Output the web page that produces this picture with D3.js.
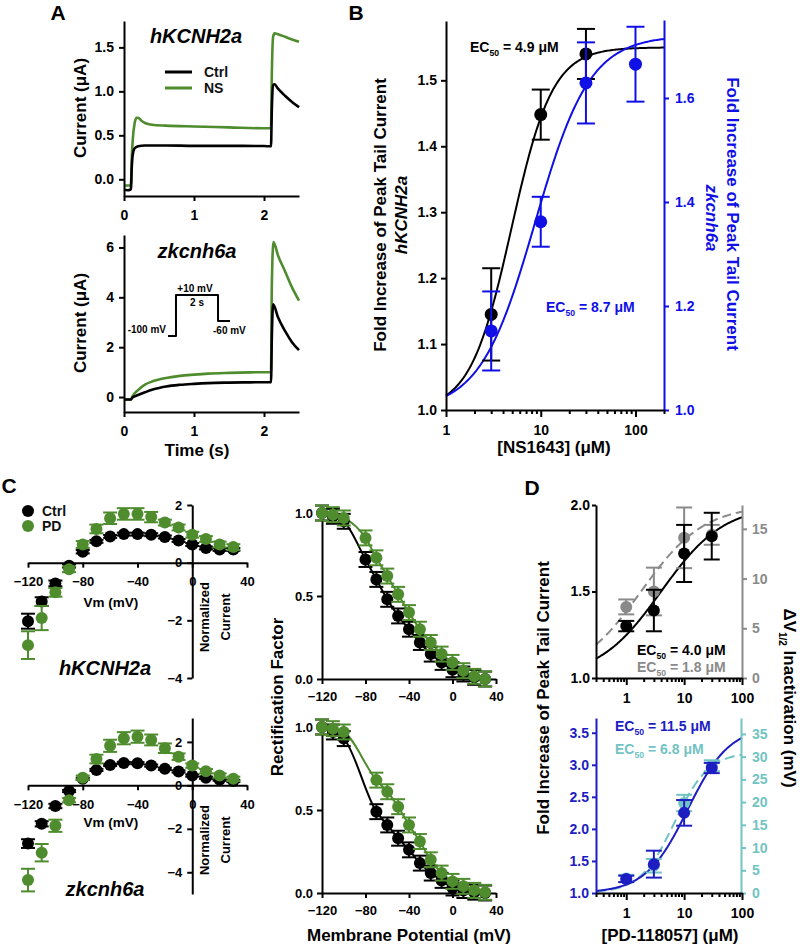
<!DOCTYPE html>
<html><head><meta charset="utf-8">
<script src="https://cdn.jsdelivr.net/npm/d3@7"></script>
<style>
body{margin:0;background:#fff;}
svg text{font-family:"Liberation Sans",Arial,sans-serif;font-weight:bold;}
</style></head><body>
<svg id="fig" width="800" height="947"></svg>
<script>
// ---------------- DATA ----------------
// Panel A: current traces [time (s), current (µA)]
const aTopCtrl = [[0,-0.12],[0.05,-0.125],[0.09,-0.12],[0.1,-0.1],[0.11,0.12],[0.125,0.28],[0.15,0.35],[0.2,0.375],[0.3,0.385],[0.6,0.385],[1.0,0.38],[1.5,0.38],[2.0,0.378],[2.1,0.375],[2.112,0.8],[2.13,1.07],[2.15,1.08],[2.2,1.03],[2.3,0.95],[2.4,0.88],[2.5,0.82]];
const aTopNS = [[0,-0.07],[0.09,-0.07],[0.1,-0.05],[0.11,0.22],[0.125,0.45],[0.15,0.63],[0.18,0.7],[0.2,0.7],[0.25,0.665],[0.3,0.64],[0.4,0.62],[0.6,0.61],[1.0,0.6],[1.5,0.59],[2.0,0.58],[2.1,0.58],[2.112,1.2],[2.13,1.62],[2.15,1.66],[2.2,1.65],[2.3,1.62],[2.4,1.59],[2.5,1.565]];
const aBotCtrl = [[0,-0.1],[0.1,-0.1],[0.12,-0.02],[0.2,0.08],[0.3,0.19],[0.4,0.29],[0.5,0.36],[0.6,0.42],[0.8,0.49],[1.0,0.53],[1.2,0.56],[1.5,0.58],[1.8,0.59],[2.1,0.6],[2.112,2.4],[2.13,3.72],[2.2,3.2],[2.3,2.65],[2.4,2.2],[2.5,1.88]];
const aBotNS = [[0,-0.1],[0.1,-0.1],[0.12,0.02],[0.2,0.28],[0.3,0.5],[0.4,0.62],[0.5,0.7],[0.6,0.76],[0.8,0.85],[1.0,0.9],[1.2,0.94],[1.5,0.97],[1.8,0.99],[2.1,1.0],[2.112,4.5],[2.135,6.22],[2.2,5.68],[2.3,5.05],[2.4,4.4],[2.5,3.87]];
const aTimeTicks = [0, 1, 2];
const aTopTicks = [0.0, 0.5, 1.0, 1.5];
const aBotTicks = [0, 2, 4, 6];
// voltage protocol [time (s), mV]
const protocol = [[-0.38,-100],[0,-100],[0,10],[2,10],[2,-60],[2.57,-60]];

// Panel B: NS1643 concentration-response
const bConcH2 = [3, 10, 30];
const bFoldH2 = [1.145, 1.448, 1.54];
const bErrH2 = [0.07, 0.038, 0.038];
const bConcZk = [3, 10, 30, 100];
const bFoldZk = [1.152, 1.362, 1.629, 1.665];
const bErrZk = [0.076, 0.048, 0.078, 0.072];
const bLeftTicks = [1.0, 1.1, 1.2, 1.3, 1.4, 1.5];
const bRightTicks = [1.0, 1.2, 1.4, 1.6];
const fitBH2 = {bottom: 1.0, top: 1.55, ec50: 4.9, n: 2.0};
const fitBZk = {bottom: 1.0, top: 1.72, ec50: 8.7, n: 1.5};

// Panel C: I-V relations (normalized current)
const ivV = [-120,-110,-100,-90,-80,-70,-60,-50,-40,-30,-20,-10,0,10,20,30];
const ivH2Ctrl = [-2.03,-1.35,-0.72,-0.11,0.38,0.74,0.91,0.99,0.99,0.97,0.89,0.77,0.63,0.51,0.46,0.46];
const ivH2CtrlErr = [0.26,0.15,0.1,0.06,0.06,0.05,0.05,0.05,0.05,0.05,0.05,0.05,0.05,0.05,0.05,0.05];
const ivH2PD = [-2.86,-1.92,-1.03,-0.23,0.63,1.17,1.54,1.69,1.69,1.58,1.39,1.22,0.97,0.82,0.63,0.54];
const ivH2PDErr = [0.48,0.42,0.15,0.1,0.12,0.15,0.2,0.2,0.2,0.18,0.1,0.1,0.1,0.1,0.1,0.1];
const ivZkCtrl = [-2.68,-1.77,-0.95,-0.26,0.3,0.71,0.94,1.03,1.02,0.91,0.76,0.64,0.45,0.35,0.26,0.2];
const ivZkCtrlErr = [0.2,0.12,0.1,0.05,0.05,0.05,0.05,0.05,0.05,0.05,0.05,0.05,0.05,0.05,0.05,0.05];
const ivZkPD = [-4.36,-3.1,-1.86,-0.68,0.35,1.21,1.82,2.17,2.24,2.09,1.71,1.32,0.91,0.65,0.45,0.3];
const ivZkPDErr = [0.52,0.4,0.28,0.1,0.1,0.2,0.28,0.28,0.28,0.25,0.22,0.15,0.1,0.1,0.1,0.1];
const ivXTicks = [-120, -80, -40, 0, 40];
const ivYTicks = [2, 0, -2, -4];

// Panel C: rectification factor
const rfVH2 = [-120,-110,-100,-80,-70,-60,-50,-40,-30,-20,-10,0,10,20,30];
const rfH2Ctrl = [1.0,0.98,0.95,0.72,0.6,0.48,0.38,0.30,0.22,0.15,0.10,0.056,0.03,0.01,0.0];
const rfH2PD = [1.0,0.99,0.97,0.85,0.73,0.62,0.51,0.40,0.30,0.22,0.15,0.10,0.05,0.016,0.0];
const rfVZk = [-120,-110,-100,-70,-60,-50,-40,-30,-20,-10,0,10,20,30];
const rfZkCtrl = [1.0,0.97,0.93,0.49,0.41,0.33,0.26,0.18,0.12,0.076,0.03,0.015,0.005,0.0];
const rfZkPD = [1.0,0.99,0.97,0.68,0.61,0.52,0.41,0.31,0.20,0.12,0.07,0.04,0.016,0.004];
const rfErr = 0.045;
const rfYTicks = [0, 0.5, 1.0];

// Panel D: PD-118057 concentration-response
const dConc = [1, 3, 10, 30];
const dTopFold = [1.30, 1.39, 1.72, 1.82];
const dTopFoldErr = [0.03, 0.12, 0.165, 0.135];
const dTopV = [7.15, 8.7, 14.1, 14.4];
const dTopVErr = [0.75, 2.4, 3.05, 1.0];
const dBotFold = [1.22, 1.45, 2.25, 2.95];
const dBotFoldErr = [0.05, 0.21, 0.2, 0.08];
const dBotV = [3.2, 6.0, 19.8, 28.0];
const dBotVErr = [0.8, 1.5, 1.8, 1.2];
const dTopLeftTicks = [1.0, 1.5, 2.0];
const dTopRightTicks = [0, 5, 10, 15];
const dBotLeftTicks = [1.0, 1.5, 2.0, 2.5, 3.0, 3.5];
const dBotRightTicks = [0, 5, 10, 15, 20, 25, 30, 35];
const fitDTopFold = {bottom: 1.0, top: 2.0, ec50: 4.0, n: 0.8};
const fitDTopV = {bottom: 0, top: 17.4, ec50: 1.8, n: 0.8};
const fitDBotFold = {bottom: 1.0, top: 3.6, ec50: 11.5, n: 1.2};
const fitDBotV = {bottom: 0, top: 31, ec50: 6.8, n: 1.47};

// ---------------- DRAWING ----------------
const svg = d3.select('#fig');
const FONT = '"Liberation Sans", Arial, sans-serif';
const BLACK = '#000', GREEN = '#4e8c2e', BLUEB = '#0f0fe6', BLUED = '#1d1dc2', TEAL = '#72c3c3', GREY = '#8a8a8a';
const fmtInt = d3.format('d'), fmt1 = d3.format('.1f');

function drawAxis(axis, tx, ty, color, fs) {
  const g = svg.append('g').attr('transform', `translate(${tx},${ty})`).call(axis);
  g.attr('font-family', FONT).attr('font-size', fs).attr('font-weight', 'bold');
  g.select('.domain').attr('stroke', color).attr('stroke-width', 2);
  g.selectAll('.tick line').attr('stroke', color).attr('stroke-width', 2);
  g.selectAll('.tick text').attr('fill', color);
  return g;
}
function text(t, x, y, o = {}) {
  const el = svg.append('text').attr('x', x).attr('y', y).attr('dy', '0.35em')
    .attr('font-size', o.fs || 14).attr('fill', o.color || BLACK)
    .attr('text-anchor', o.anchor || 'middle').text(t);
  if (o.italic) el.attr('font-style', 'italic');
  if (o.normal) el.attr('font-weight', 'normal');
  if (o.rot) el.attr('transform', `rotate(${o.rot},${x},${y})`);
  return el;
}
function ecText(x, y, val, color, fs) {
  const t = svg.append('text').attr('x', x).attr('y', y).attr('dy', '0.35em').attr('fill', color).attr('font-size', fs);
  t.append('tspan').text('EC');
  t.append('tspan').attr('font-size', fs * 0.62).attr('dy', fs * 0.3).text('50');
  t.append('tspan').attr('dy', -fs * 0.3).text(' = ' + val + ' \u03bcM');
}
function errBars(xs, ys, es, x, y, color, cap) {
  const g = svg.append('g').attr('stroke', color).attr('stroke-width', 2);
  const d = xs.map((v, i) => ({x: x(v), lo: y(ys[i] - es[i]), hi: y(ys[i] + es[i])}));
  g.selectAll('.v').data(d).join('line').attr('x1', e => e.x).attr('x2', e => e.x).attr('y1', e => e.lo).attr('y2', e => e.hi);
  g.selectAll('.c1').data(d).join('line').attr('x1', e => e.x - cap).attr('x2', e => e.x + cap).attr('y1', e => e.lo).attr('y2', e => e.lo);
  g.selectAll('.c2').data(d).join('line').attr('x1', e => e.x - cap).attr('x2', e => e.x + cap).attr('y1', e => e.hi).attr('y2', e => e.hi);
}
function dots(xs, ys, x, y, color, r) {
  svg.append('g').selectAll('circle').data(xs).join('circle')
    .attr('cx', d => x(d)).attr('cy', (d, i) => y(ys[i])).attr('r', r).attr('fill', color);
}
function pathLine(data, x, y, color, w, curve, dash) {
  const p = svg.append('path').datum(data).attr('fill', 'none').attr('stroke', color).attr('stroke-width', w)
    .attr('stroke-linejoin', 'round')
    .attr('d', d3.line().x(d => x(d[0])).y(d => y(d[1])).curve(curve || d3.curveMonotoneX));
  if (dash) p.attr('stroke-dasharray', dash);
}
function hill(p, c) { return p.bottom + (p.top - p.bottom) / (1 + Math.pow(p.ec50 / c, p.n)); }
function fitPts(p, lo, hi) {
  return d3.range(161).map(i => { const c = lo * Math.pow(hi / lo, i / 160); return [c, hill(p, c)]; });
}
function logTickVals(lo, hi) {
  const t = [];
  for (let e = -1; e <= 3; e++) for (let m = 1; m < 10; m++) {
    const v = +(m * Math.pow(10, e)).toPrecision(3);
    if (v >= lo - 1e-9 && v <= hi + 1e-9) t.push(v);
  }
  return t;
}
const isPow10 = v => Math.abs(Math.log10(v) - Math.round(Math.log10(v))) < 1e-9;
function logAxis(x, ty, lo, hi) {
  const g = drawAxis(d3.axisBottom(x).tickValues(logTickVals(lo, hi)).tickSize(4).tickSizeOuter(0).tickPadding(11)
    .tickFormat(v => isPow10(v) ? String(v) : ''), 0, ty, BLACK, 14);
  g.selectAll('.tick').filter(v => isPow10(v)).select('line').attr('y2', 7);
  return g;
}

// ===== Panel A =====
const aX = d3.scaleLinear([0, 2.5], [124, 299]);
const aYTop = d3.scaleLinear([-0.19, 1.8], [196, 21]);
const aYBot = d3.scaleLinear([-0.6, 6.5], [412, 235]);

pathLine(aTopNS, aX, aYTop, GREEN, 2.6);
pathLine(aTopCtrl, aX, aYTop, BLACK, 2.6);
pathLine(aBotNS, aX, aYBot, GREEN, 2.6);
pathLine(aBotCtrl, aX, aYBot, BLACK, 2.6);

drawAxis(d3.axisLeft(aYTop).tickValues(aTopTicks).tickFormat(fmt1).tickSize(5).tickSizeOuter(0).tickPadding(5), 124, 0, BLACK, 14);
drawAxis(d3.axisBottom(aX).tickValues(aTimeTicks).tickFormat(fmtInt).tickSize(5).tickSizeOuter(0).tickPadding(9), 0, 196, BLACK, 14);
drawAxis(d3.axisLeft(aYBot).tickValues(aBotTicks).tickFormat(fmtInt).tickSize(5).tickSizeOuter(0).tickPadding(5), 124, 0, BLACK, 14);
drawAxis(d3.axisBottom(aX).tickValues(aTimeTicks).tickFormat(fmtInt).tickSize(5).tickSizeOuter(0).tickPadding(9), 0, 412, BLACK, 14);

text('hKCNH2a', 196, 36, {fs: 20, italic: true});
text('zkcnh6a', 197, 251, {fs: 20, italic: true});
text('Current (\u03bcA)', 80, 108, {fs: 17, rot: -90});
text('Current (\u03bcA)', 80, 323, {fs: 17, rot: -90});
text('Time (s)', 197, 450, {fs: 17});
// legend
const legA = [['Ctrl', BLACK, 72], ['NS', GREEN, 88]];
legA.forEach(l => {
  svg.append('line').attr('x1', 165).attr('x2', 192).attr('y1', l[2]).attr('y2', l[2]).attr('stroke', l[1]).attr('stroke-width', 3);
  text(l[0], 204, l[2], {fs: 14, anchor: 'start', normal: true, color: '#111'});
});
// protocol inset
const pX = d3.scaleLinear([-0.38, 2.57], [168, 230]);
const pY = d3.scaleLinear([-100, 10], [336, 295]);
pathLine(protocol, pX, pY, BLACK, 2, d3.curveLinear);
text('+10 mV', 195, 288, {fs: 10});
text('2 s', 197, 302, {fs: 10});
text('-100 mV', 166, 329, {fs: 10, anchor: 'end'});
text('-60 mV', 213, 330, {fs: 10, anchor: 'start'});

// ===== Panel B =====
const bX = d3.scaleLog([1, 200], [446, 664]);
const bYL = d3.scaleLinear([1.0, 1.59], [410, 21]);
const bYR = d3.scaleLinear([1.0, 1.75], [410, 20]);
pathLine(fitPts(fitBH2, 1, 200), bX, bYL, BLACK, 2, d3.curveLinear);
pathLine(fitPts(fitBZk, 1, 200), bX, bYR, BLUEB, 2, d3.curveLinear);
errBars(bConcH2, bFoldH2, bErrH2, bX, bYL, BLACK, 9);
dots(bConcH2, bFoldH2, bX, bYL, BLACK, 6.5);
errBars(bConcZk, bFoldZk, bErrZk, bX, bYR, BLUEB, 9);
dots(bConcZk, bFoldZk, bX, bYR, BLUEB, 6.5);
drawAxis(d3.axisLeft(bYL).tickValues(bLeftTicks).tickFormat(fmt1).tickSize(5).tickSizeOuter(0).tickPadding(4), 446, 0, BLACK, 14);
drawAxis(d3.axisRight(bYR).tickValues(bRightTicks).tickFormat(fmt1).tickSize(5).tickSizeOuter(0).tickPadding(6), 664, 0, BLUEB, 14);
logAxis(bX, 410, 1, 200);
ecText(470, 47, '4.9', BLACK, 14);
ecText(546, 307, '8.7', BLUEB, 14);
text('Fold Increase of Peak Tail Current', 380, 215, {fs: 17, rot: -90});
text('hKCNH2a', 401, 215, {fs: 17, rot: -90, italic: true});
text('Fold Increase of Peak Tail Current', 733, 214, {fs: 17, rot: 90, color: BLUEB});
text('zkcnh6a', 712, 218, {fs: 17, rot: 90, italic: true, color: BLUEB});
text('[NS1643] (\u03bcM)', 554, 447, {fs: 17});

// ===== Panel C: I-V =====
const ivX = d3.scaleLinear([-120, 40], [28, 247]);
const ivYTop = d3.scaleLinear([-4, 2], [678, 505]);
const ivYBot = d3.scaleLinear([-5, 3.1], [894, 718]);
function ivPanel(yS, ctrl, ctrlE, pd, pdE, title, titleY, nY, vmY) {
  drawAxis(d3.axisBottom(ivX).tickValues(ivXTicks).tickFormat(fmtInt).tickSize(5).tickSizeOuter(0).tickPadding(9), 0, yS(0), BLACK, 13);
  drawAxis(d3.axisLeft(yS).tickValues(ivYTicks).tickFormat(fmtInt).tickSize(5).tickSizeOuter(0).tickPadding(5), ivX(0), 0, BLACK, 13);
  errBars(ivV, ctrl, ctrlE, ivX, yS, BLACK, 7);
  dots(ivV, ctrl, ivX, yS, BLACK, 6);
  errBars(ivV, pd, pdE, ivX, yS, GREEN, 7);
  dots(ivV, pd, ivX, yS, GREEN, 6);
  text(title, 105, titleY, {fs: 20, italic: true});
  text('Normalized', 204, nY, {fs: 13, rot: -90});
  text('Current', 225, nY, {fs: 13, rot: -90});
  text('Vm (mV)', 111, vmY, {fs: 13.5});
}
ivPanel(ivYTop, ivH2Ctrl, ivH2CtrlErr, ivH2PD, ivH2PDErr, 'hKCNH2a', 668, 617, 602);
ivPanel(ivYBot, ivZkCtrl, ivZkCtrlErr, ivZkPD, ivZkPDErr, 'zkcnh6a', 889, 840, 822);
[['Ctrl', BLACK, 511], ['PD', GREEN, 526]].forEach(l => {
  svg.append('circle').attr('cx', 28).attr('cy', l[2]).attr('r', 6).attr('fill', l[1]);
  text(l[0], 42, l[2], {fs: 14, anchor: 'start', normal: true, color: '#111'});
});

// ===== Panel C: rectification =====
const rfX = d3.scaleLinear([-120, 40], [322, 496]);
const rfYTop = d3.scaleLinear([0, 1], [679, 513]);
const rfYBot = d3.scaleLinear([0, 1], [893, 727]);
function rfPanel(yS, vs, ctrl, pd) {
  drawAxis(d3.axisBottom(rfX).tickValues(ivXTicks).tickFormat(fmtInt).tickSize(5).tickSizeOuter(0).tickPadding(8), 0, yS(0), BLACK, 13);
  drawAxis(d3.axisLeft(yS).tickValues(rfYTicks).tickFormat(fmt1).tickSize(5).tickSizeOuter(0).tickPadding(4), 322, 0, BLACK, 13);
  const e = vs.map(() => rfErr);
  pathLine(vs.map((v, i) => [v, ctrl[i]]), rfX, yS, BLACK, 2);
  pathLine(vs.map((v, i) => [v, pd[i]]), rfX, yS, GREEN, 2);
  errBars(vs, ctrl, e, rfX, yS, BLACK, 7);
  dots(vs, ctrl, rfX, yS, BLACK, 6);
  errBars(vs, pd, e, rfX, yS, GREEN, 7);
  dots(vs, pd, rfX, yS, GREEN, 6);
}
rfPanel(rfYTop, rfVH2, rfH2Ctrl, rfH2PD);
rfPanel(rfYBot, rfVZk, rfZkCtrl, rfZkPD);
text('Rectification Factor', 277, 697, {fs: 17, rot: -90});
text('Membrane Potential (mV)', 409, 935, {fs: 17});

// ===== Panel D =====
const dX = d3.scaleLog([0.3, 100], [596, 742]);
const dYTL = d3.scaleLinear([1, 2], [678, 505]);
const dYTR = d3.scaleLinear([0, 17.4], [678, 505]);
const dYBL = d3.scaleLinear([1, 3.73], [893, 718]);
const dYBR = d3.scaleLinear([0, 38.5], [893, 718]);
// top
pathLine(fitPts(fitDTopV, 0.3, 100), dX, dYTR, GREY, 2, d3.curveLinear, '9,5');
pathLine(fitPts(fitDTopFold, 0.3, 100), dX, dYTL, BLACK, 2, d3.curveLinear);
errBars(dConc, dTopV, dTopVErr, dX, dYTR, GREY, 8);
dots(dConc, dTopV, dX, dYTR, GREY, 6);
errBars(dConc, dTopFold, dTopFoldErr, dX, dYTL, BLACK, 8);
dots(dConc, dTopFold, dX, dYTL, BLACK, 6);
drawAxis(d3.axisLeft(dYTL).tickValues(dTopLeftTicks).tickFormat(fmt1).tickSize(4).tickSizeOuter(0).tickPadding(2), 596, 0, BLACK, 14);
drawAxis(d3.axisRight(dYTR).tickValues(dTopRightTicks).tickFormat(fmtInt).tickSize(5).tickSizeOuter(0).tickPadding(5), 742, 0, GREY, 14);
logAxis(dX, 678, 0.3, 100);
ecText(637, 650, '4.0', BLACK, 14);
ecText(637, 667, '1.8', GREY, 14);
// bottom
pathLine(fitPts(fitDBotV, 0.3, 100), dX, dYBR, TEAL, 2, d3.curveLinear, '10,5');
pathLine(fitPts(fitDBotFold, 0.3, 100), dX, dYBL, BLUED, 2, d3.curveLinear);
errBars(dConc, dBotV, dBotVErr, dX, dYBR, TEAL, 8);
dots(dConc, dBotV, dX, dYBR, TEAL, 6);
errBars(dConc, dBotFold, dBotFoldErr, dX, dYBL, BLUED, 8);
dots(dConc, dBotFold, dX, dYBL, BLUED, 6);
drawAxis(d3.axisLeft(dYBL).tickValues(dBotLeftTicks).tickFormat(fmt1).tickSize(4).tickSizeOuter(0).tickPadding(3), 596, 0, BLUED, 14);
drawAxis(d3.axisRight(dYBR).tickValues(dBotRightTicks).tickFormat(fmtInt).tickSize(5).tickSizeOuter(0).tickPadding(6), 741, 0, TEAL, 14);
logAxis(dX, 893, 0.3, 100);
ecText(615, 726, '11.5', BLUED, 14);
ecText(615, 749, '6.8', TEAL, 14);
text('Fold Increase of Peak Tail Current', 543, 698, {fs: 17, rot: -90});
text('[PD-118057] (\u03bcM)', 670, 935, {fs: 17});
// right title with subscript
const dvt = svg.append('text').attr('x', 790).attr('y', 698).attr('dy', '0.35em').attr('text-anchor', 'middle')
  .attr('font-size', 17).attr('transform', 'rotate(90,790,698)');
dvt.append('tspan').text('\u0394V');
dvt.append('tspan').attr('font-size', 10).attr('dy', 5).text('1/2');
dvt.append('tspan').attr('dy', -5).text(' Inactivation (mV)');

// panel letters
text('A', 58, 13, {fs: 21});
text('B', 356, 13, {fs: 21});
text('C', 9, 486, {fs: 21});
text('D', 532, 488, {fs: 21});
</script>
</body></html>
